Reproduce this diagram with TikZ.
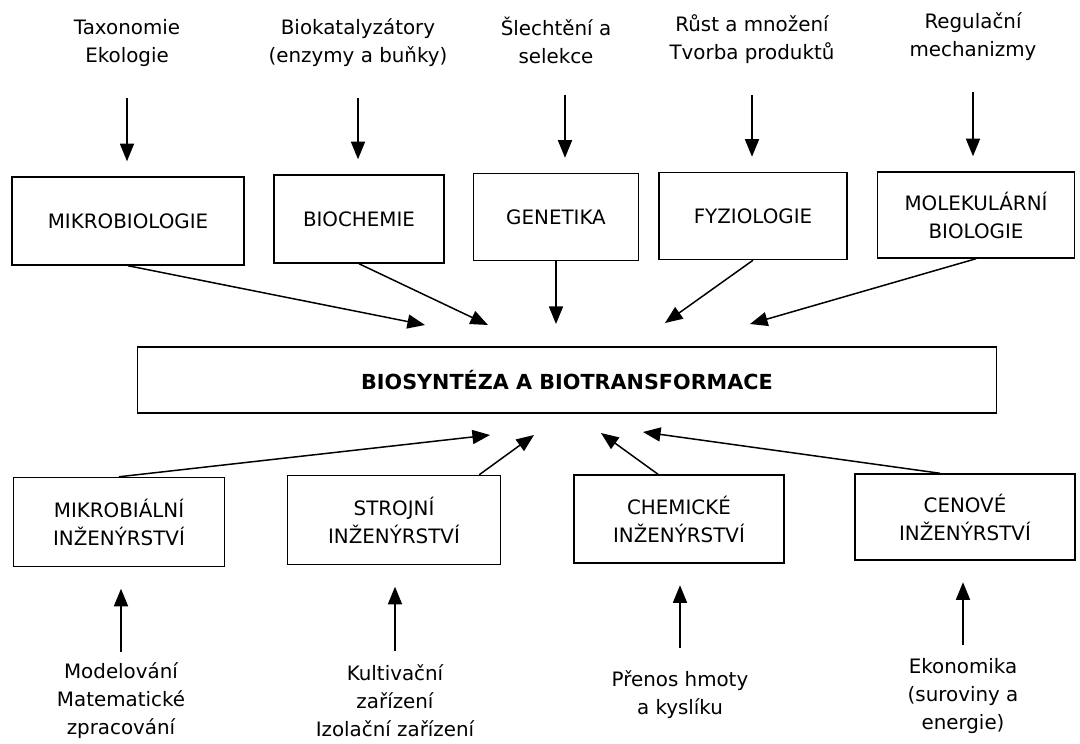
\documentclass[tikz,border=0pt]{standalone}
\usepackage{fontspec}
\setmainfont{DejaVu Sans}
\usepackage{tikz}
\usetikzlibrary{arrows.meta,positioning}

\begin{document}
\begin{tikzpicture}[
    x=0.02cm, y=-0.02cm,
    box/.style={rectangle, draw, line width=0.85pt, align=center, inner sep=2pt,
                font={\fontsize{11.3}{16}\selectfont}},
    mainbox/.style={box, font={\fontsize{11.8}{16}\selectfont\bfseries}},
    lbl/.style={align=center, inner sep=0pt, font={\fontsize{11.3}{16}\selectfont}},
    arrow/.style={-{Triangle[length=10pt, width=8pt]}, line width=0.85pt}
  ]
    \useasboundingbox (0,0) rectangle (1080,744);

    % zdroje nahore
    \node[lbl] (tax) at (127,43) {Taxonomie\\Ekologie};
    \node[lbl] (bkat) at (358,43) {Biokatalyzátory\\(enzymy a buňky)};
    \node[lbl] (slecht) at (556,40) {Šlechtění a\\selekce};
    \node[lbl] (rust) at (752,39) {Růst a množení\\Tvorba produktů};
    \node[lbl] (regul) at (973,37) {Regulační\\mechanizmy};

    % obory nahore
    \node[box, minimum width=4.64cm, minimum height=1.76cm] (mikro) at (128,221) {MIKROBIOLOGIE};
    \node[box, minimum width=3.40cm, minimum height=1.76cm] (biochem) at (359,219) {BIOCHEMIE};
    \node[box, minimum width=3.30cm, minimum height=1.74cm] (genet) at (556,217) {GENETIKA};
    \node[box, minimum width=3.76cm, minimum height=1.74cm] (fyzio) at (753,216) {FYZIOLOGIE};
    \node[box, minimum width=3.94cm, minimum height=1.72cm] (molek) at (976,215) {MOLEKULÁRNÍ\\BIOLOGIE};

    % hlavni blok
    \node[mainbox, minimum width=17.18cm, minimum height=1.32cm] (bio) at (567,380) {BIOSYNTÉZA A BIOTRANSFORMACE};

    % inzenyrstvi dole
    \node[box, minimum width=4.22cm, minimum height=1.78cm] (mikrob) at (119,522) {MIKROBIÁLNÍ\\INŽENÝRSTVÍ};
    \node[box, minimum width=4.26cm, minimum height=1.78cm] (stroj) at (394,520) {STROJNÍ\\INŽENÝRSTVÍ};
    \node[box, minimum width=4.20cm, minimum height=1.76cm] (chem) at (679,519) {CHEMICKÉ\\INŽENÝRSTVÍ};
    \node[box, minimum width=4.40cm, minimum height=1.72cm] (cenov) at (965,517) {CENOVÉ\\INŽENÝRSTVÍ};

    % zdroje dole
    \node[lbl] (model) at (121,701) {Modelování\\Matematické\\zpracování};
    \node[lbl] (kult) at (395,701) {Kultivační\\zařízení\\Izolační zařízení};
    \node[lbl] (prenos) at (680,695) {Přenos hmoty\\a kyslíku};
    \node[lbl] (ekon) at (963,696) {Ekonomika\\(suroviny a\\energie)};

    % hroty sipek u hlavniho bloku
    \coordinate (t1) at (425,325);
    \coordinate (t2) at (488,325);
    \coordinate (t3) at (556,324);
    \coordinate (t4) at (665,323);
    \coordinate (t5) at (750,324);
    \coordinate (b1) at (490,435);
    \coordinate (b2) at (534,435);
    \coordinate (b3) at (601,433);
    \coordinate (b4) at (643,432);

    \foreach \a/\b in {tax/mikro, bkat/biochem, rust/fyzio, regul/molek}
      \draw[arrow, shorten <=0.62cm, shorten >=0.3cm] (\a.south) -- (\a.south |- \b.north);
    \draw[arrow, shorten <=0.62cm, shorten >=0.3cm] ([xshift=0.18cm]slecht.south) -- ([xshift=0.18cm]slecht.south |- genet.north);
    \foreach \a/\t in {mikro/t1, biochem/t2, genet/t3, fyzio/t4, molek/t5}
      \draw[arrow] (\a.south) -- (\t);

    \draw[arrow] (mikrob.north) -- (b1);
    \draw[arrow] ([xshift=-0.44cm]stroj.north east) -- (b2);
    \draw[arrow] ([xshift=-0.42cm]chem.north) -- (b3);
    \draw[arrow] ([xshift=-0.5cm]cenov.north) -- (b4);

    \foreach \a/\b/\s in {model/mikrob/0.22, kult/stroj/0.26, prenos/chem/0.46, ekon/cenov/0.26}
      \draw[arrow, shorten <=\s cm, shorten >=0.43cm] (\a.north) -- (\a.north |- \b.south);
  \end{tikzpicture}
\end{document}
